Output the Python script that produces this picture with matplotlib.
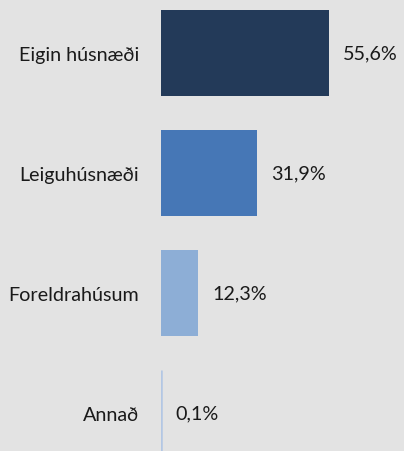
import matplotlib
matplotlib.use("Agg")
import matplotlib.pyplot as plt

# Búsetuform
categories = ['Eigin húsnæði', 'Leiguhúsnæði', 'Foreldrahúsum', 'Annað']
values = [55.6, 31.9, 12.3, 0.1]
value_labels = ['55,6%', '31,9%', '12,3%', '0,1%']
colors = ['#233a59', '#4677b6', '#8daed6', '#b3c7e4']

bg = '#e3e3e3'
plt.rcParams['font.family'] = ['Lato', 'DejaVu Sans']

fig = plt.figure(figsize=(4.04, 4.52), dpi=100, facecolor=bg)
ax = fig.add_axes([161 / 404, 0, (404 - 161) / 404, 1], facecolor=bg)

y = list(range(len(categories)))
bars = ax.barh(y, values, height=0.72, color=colors)
# tiny value still shows as a thin line
bars[-1].set_edgecolor(colors[-1])
bars[-1].set_linewidth(1.8)

ax.set_xlim(0, (404 - 161) / 3.02)
ax.set_ylim(3.3167, -0.45)

for yi, v, lab in zip(y, values, value_labels):
    ax.annotate(lab, (v, yi), xytext=(14, 0), textcoords='offset pixels',
                va='center', ha='left', fontsize=14.2, color='#1a1a1a')

ax.set_yticks(y)
ax.set_yticklabels(categories, fontsize=14.2, color='#1a1a1a')
ax.tick_params(axis='y', length=0, pad=15.8)
ax.set_xticks([])
for s in ax.spines.values():
    s.set_visible(False)

fig.savefig('out.png', dpi=100, facecolor=bg)
